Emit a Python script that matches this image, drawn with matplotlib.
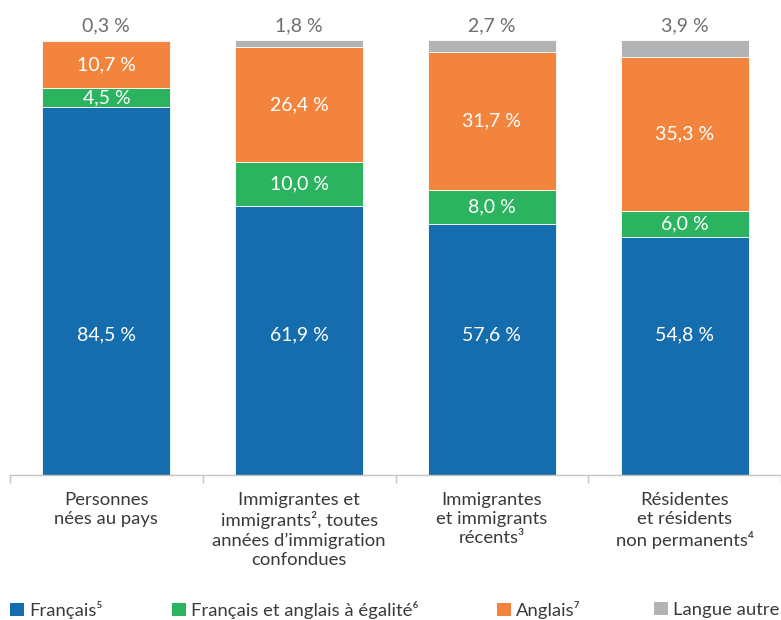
import numpy as np
import matplotlib
matplotlib.use("Agg")
import matplotlib.pyplot as plt
from matplotlib.patches import Patch

plt.rcParams["font.family"] = ["Lato", "DejaVu Sans"]

categories = [
    "Personnes\nnées au pays",
    "Immigrantes et\nimmigrants², toutes\nannées d’immigration\nconfondues",
    "Immigrantes\net immigrants\nrécents³",
    "Résidentes\net résidents\nnon permanents⁴",
]
francais = [84.5, 61.9, 57.6, 54.8]
fr_en_egalite = [4.5, 10.0, 8.0, 6.0]
anglais = [10.7, 26.4, 31.7, 35.3]
autre = [0.3, 1.8, 2.7, 3.9]

series_names = ["Français⁵", "Français et anglais à égalité⁶", "Anglais⁷", "Langue autre"]
colors = ["#166dae", "#2bb35f", "#f3843e", "#b2b3b5"]

# hauteur commune des étiquettes de la série du bas
BLUE_LABEL_Y = 32.2

fig = plt.figure(figsize=(7.81, 6.20), dpi=100)
ax = fig.add_axes([10 / 781, 1 - 475 / 620, 771 / 781, 435 / 620])

x = np.arange(len(categories))
width = 0.665
bottom = np.zeros(len(categories))
for i, (vals, col, name) in enumerate(zip([francais, fr_en_egalite, anglais, autre], colors, series_names)):
    vals = np.array(vals)
    ax.bar(x, vals, width, bottom=bottom, color=col, edgecolor="white", linewidth=0.6, label=name)
    for xi, b, v in zip(x, bottom, vals):
        lbl = f"{v:.1f} %".replace(".", ",")
        if i == 3:
            # petite part : étiquette au-dessus de la barre
            ax.text(xi, b + v + 1.3, lbl, ha="center", va="bottom", fontsize=14, color="#6d6e71")
        elif i == 0:
            ax.text(xi, BLUE_LABEL_Y, lbl, ha="center", va="center", fontsize=14, color="white")
        else:
            ax.text(xi, b + v / 2, lbl, ha="center", va="center", fontsize=14, color="white")
    bottom = bottom + vals

ax.set_xlim(-0.5, len(categories) - 0.5)
ax.set_ylim(0, 100)
ax.set_yticks([])
for s in ["top", "right", "left"]:
    ax.spines[s].set_visible(False)
ax.spines["bottom"].set_color("#c4c4c4")
ax.spines["bottom"].set_linewidth(1)

ax.set_xticks(x)
ax.set_xticklabels(categories, fontsize=13.3, color="#3a3a3a", linespacing=1.25)
ax.tick_params(axis="x", which="major", length=0, pad=12)
ax.set_xticks(np.arange(-0.5, len(categories)), minor=True)
ax.tick_params(axis="x", which="minor", length=6, color="#c4c4c4", width=1)

# une légende par entrée pour caler chaque case à sa place
legend_x = [10, 172, 497, 654]
for lx, c, name in zip(legend_x, colors, series_names):
    leg = fig.legend([Patch(facecolor=c, edgecolor="none")], [name], loc="center left",
                     bbox_to_anchor=(lx / 781, 1 - 610 / 620), frameon=False, fontsize=13.3,
                     handlelength=0.75, handleheight=0.75, handletextpad=0.3,
                     borderpad=0, borderaxespad=0, labelcolor="#3a3a3a")

fig.savefig("out.png", dpi=100)
